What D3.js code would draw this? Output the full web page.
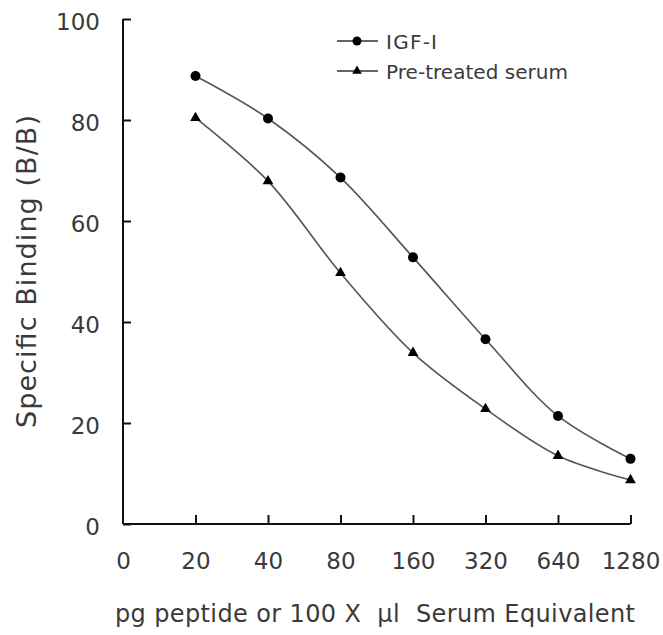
<!DOCTYPE html>
<html><head><meta charset="utf-8">
<script src="https://cdn.jsdelivr.net/npm/d3@7"></script>
<style>body{margin:0;background:#fff}svg{display:block}text{font-family:"DejaVu Sans",sans-serif;fill:#3a3a3a}</style>
</head><body>
<svg id="c" width="663" height="635"></svg>
<script>
const categories = ["0","20","40","80","160","320","640","1280"];
const igfValues = [null, 88.7, 80.3, 68.6, 52.8, 36.6, 21.4, 12.9];
const serumValues = [null, 80.4, 67.9, 49.7, 33.9, 22.8, 13.5, 8.7];
const yTicks = [0, 20, 40, 60, 80, 100];
const seriesNames = ["IGF-I", "Pre-treated serum"];

const svg = d3.select("#c");
const x = d3.scalePoint().domain(categories).range([123, 630.5]);
const y = d3.scaleLinear().domain([0, 100]).range([524, 19]);

const yAxis = d3.axisLeft(y).tickValues(yTicks).tickSizeInner(-8).tickSizeOuter(0).tickPadding(23);
const gy = svg.append("g").attr("transform", "translate(123,0)").call(yAxis);
const xAxis = d3.axisBottom(x).tickSizeInner(-9).tickSizeOuter(0).tickPadding(29);
const gx = svg.append("g").attr("transform", "translate(0,524)").call(xAxis);
[gy, gx].forEach(g => {
  g.select(".domain").attr("stroke", "#111").attr("stroke-width", 2);
  g.selectAll(".tick line").attr("stroke", "#111").attr("stroke-width", 2);
  g.selectAll(".tick text").attr("font-size", 23).attr("fill", "#3a3a3a").attr("font-family", "Liberation Sans, Arial, sans-serif");
});
gy.selectAll(".tick text").attr("dy", "0.45em");
gy.select(".domain").attr("d", "M0,524V19");
gx.select(".domain").attr("d", "M123,0H630.5");
gx.selectAll(".tick").filter(d => d === "0").select("line").remove();

const line = d3.line().defined(d => d.v != null).x(d => x(d.c)).y(d => y(d.v)).curve(d3.curveCatmullRom.alpha(0.5));
const mk = vals => categories.map((c, i) => ({c, v: vals[i]}));
const tri = d3.symbol().type(d3.symbolTriangle).size(50);

[igfValues, serumValues].forEach((vals, si) => {
  const data = mk(vals);
  svg.append("path").datum(data).attr("d", line).attr("fill", "none").attr("stroke", "#555").attr("stroke-width", 1.6);
  const pts = data.filter(d => d.v != null);
  if (si === 0) {
    svg.selectAll(null).data(pts).enter().append("circle")
      .attr("cx", d => x(d.c)).attr("cy", d => y(d.v)).attr("r", 5).attr("fill", "#000");
  } else {
    svg.selectAll(null).data(pts).enter().append("path").attr("d", tri)
      .attr("transform", d => `translate(${x(d.c)},${y(d.v)})`).attr("fill", "#000");
  }
});

// legend
const lg = svg.append("g");
const legendWidths = [51, 182];
seriesNames.forEach((name, i) => {
  const ly = 41 + i * 30;
  lg.append("line").attr("x1", 337).attr("x2", 378).attr("y1", ly).attr("y2", ly).attr("stroke", "#333").attr("stroke-width", 1.6);
  if (i === 0) lg.append("circle").attr("cx", 357).attr("cy", ly).attr("r", 4.5).attr("fill", "#000");
  else lg.append("path").attr("d", d3.symbol().type(d3.symbolTriangle).size(40)).attr("transform", `translate(357,${ly})`).attr("fill", "#000");
  lg.append("text").attr("x", 386).attr("y", ly + 7.5).attr("font-size", 20)
    .attr("textLength", legendWidths[i]).attr("lengthAdjust", "spacing").text(name);
});

svg.append("text").attr("transform", "translate(36,271.5) rotate(-90)").attr("text-anchor", "middle")
  .attr("font-size", 27).attr("textLength", 313).attr("lengthAdjust", "spacing").text("Specific Binding (B/B)");
svg.append("text").attr("x", 375).attr("y", 622).attr("text-anchor", "middle").attr("font-size", 24)
  .attr("textLength", 520).attr("lengthAdjust", "spacing").style("white-space", "pre")
  .text("pg peptide or 100 X  μl  Serum Equivalent");
</script>
</body></html>
